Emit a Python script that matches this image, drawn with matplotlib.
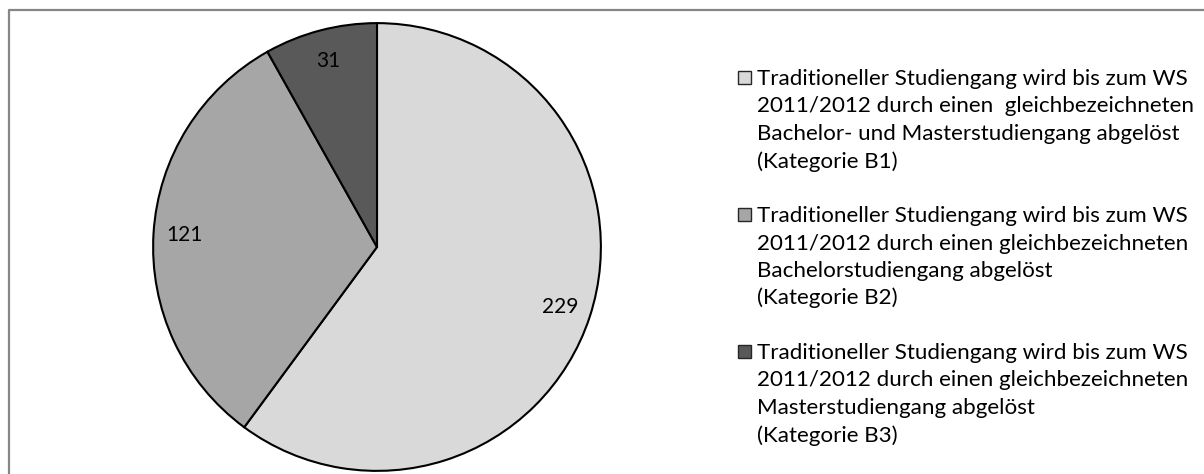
import matplotlib
matplotlib.use("Agg")
import matplotlib.pyplot as plt
from matplotlib.patches import Rectangle
from matplotlib.lines import Line2D

categories = ["B1", "B2", "B3"]
values = [229, 121, 31]
colors = ["#d9d9d9", "#a6a6a6", "#595959"]
legend_labels = [
    "Traditioneller Studiengang wird bis zum WS\n2011/2012 durch einen  gleichbezeichneten\nBachelor- und Masterstudiengang abgelöst\n(Kategorie B1)",
    "Traditioneller Studiengang wird bis zum WS\n2011/2012 durch einen gleichbezeichneten\nBachelorstudiengang abgelöst\n(Kategorie B2)",
    "Traditioneller Studiengang wird bis zum WS\n2011/2012 durch einen gleichbezeichneten\nMasterstudiengang abgelöst\n(Kategorie B3)",
]

W, H = 1204, 474
plt.rcParams['font.family'] = ['Lato', 'DejaVu Sans']
fig = plt.figure(figsize=(W / 100, H / 100), dpi=100)

# outer frame
frame = Line2D([9 / W, 9 / W, 1.0], [0.0, 1 - 9.5 / H, 1 - 9.5 / H],
               transform=fig.transFigure, color="#868686", lw=1.6)
fig.add_artist(frame)

cx, cy, r = 377, 247, 225
ax = fig.add_axes([(cx - r) / W, (H - cy - r) / H, 2 * r / W, 2 * r / H])
wedges, texts = ax.pie(values, colors=colors, startangle=90, counterclock=False,
                       labels=[str(v) for v in values], labeldistance=0.86,
                       wedgeprops=dict(edgecolor="black", linewidth=1.5),
                       textprops=dict(fontsize=15, color="black"))
for t in texts:
    t.set_ha("center")
    t.set_va("center")
ax.set_xlim(-1.005, 1.005)
ax.set_ylim(-1.005, 1.005)
ax.axis("off")

# legend
box_x = 738
text_x = 757
first_y = [78, 215, 352]
line_h = 27.5
for lab, col, y0 in zip(legend_labels, colors, first_y):
    fig.add_artist(Rectangle((box_x / W, (H - y0 - 6) / H), 13 / W, 13 / H,
                             transform=fig.transFigure, facecolor=col,
                             edgecolor="#262626", lw=1.0))
    for i, line in enumerate(lab.split("\n")):
        yb = y0 + i * line_h + 7
        fig.text(text_x / W, (H - yb) / H, line, fontsize=16.1,
                 ha="left", va="baseline", color="black")

fig.savefig("out.png", dpi=100)
